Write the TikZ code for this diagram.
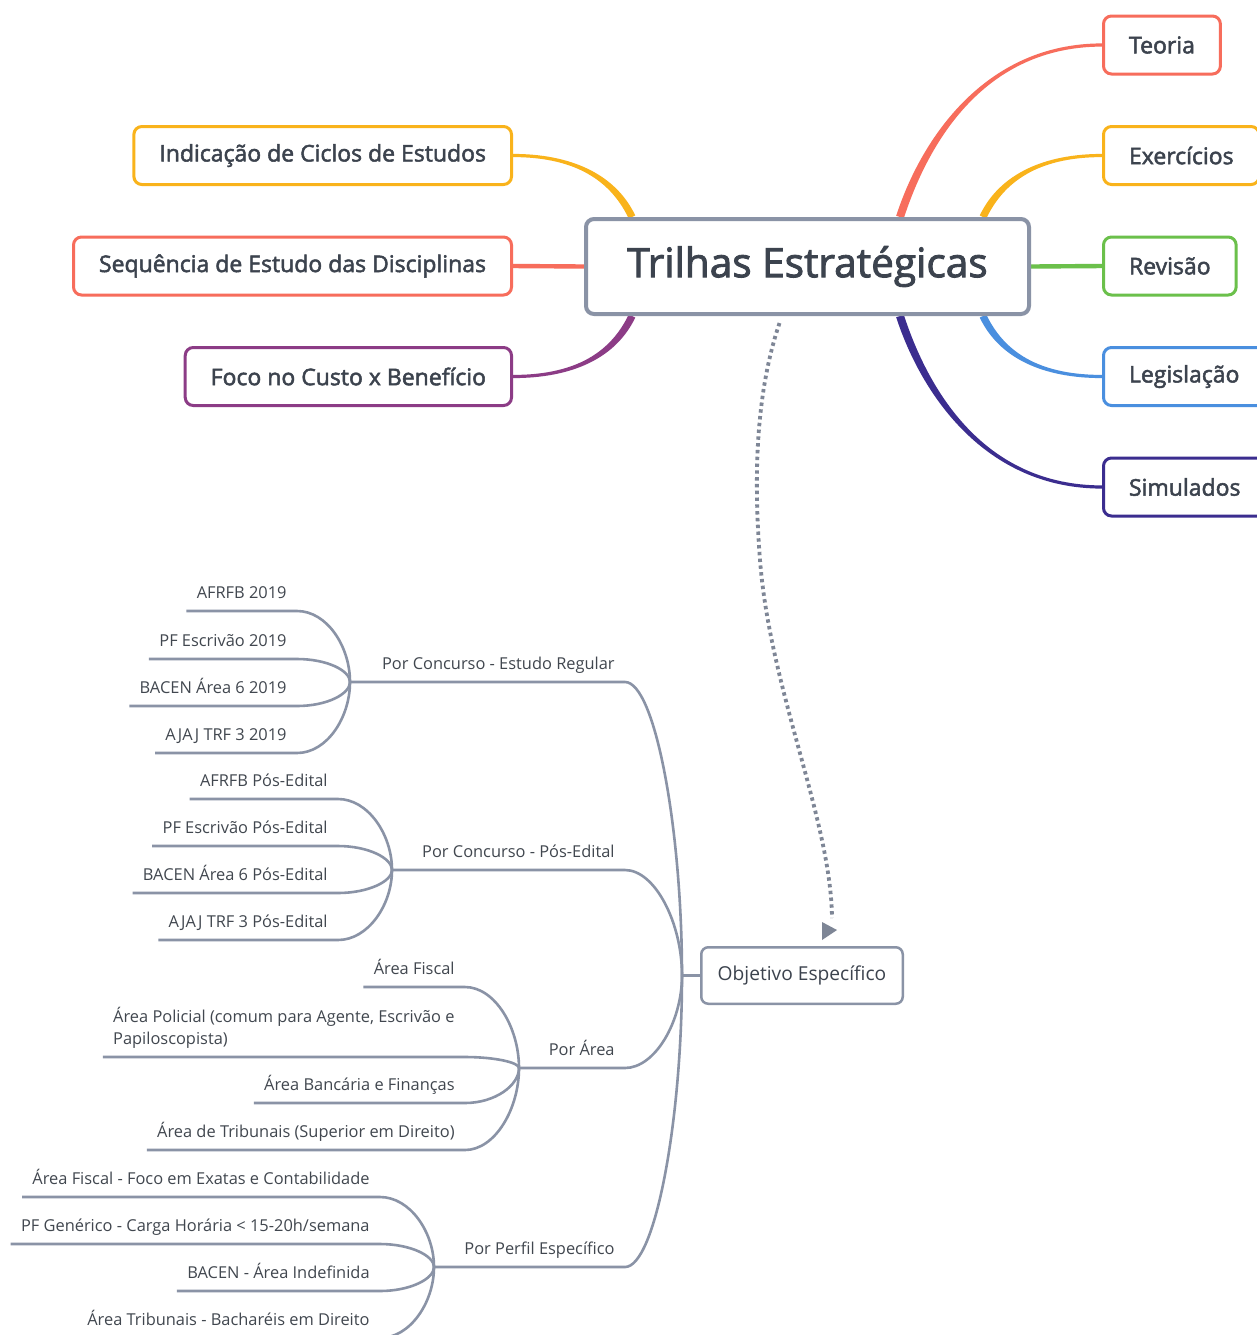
\documentclass[tikz,border=0pt]{standalone}
\usepackage{fontspec}
\setmainfont{Open Sans}
\newfontfamily\sbf{Open Sans}[FakeBold=2.2]
\usetikzlibrary{calc,arrows.meta,backgrounds}
\definecolor{tcol}{HTML}{3C434E}
\definecolor{lcol}{HTML}{41474F}
\definecolor{gline}{HTML}{8A93A6}
\definecolor{dcol}{HTML}{7E8696}
\definecolor{coral}{HTML}{F76D5C}
\definecolor{orng}{HTML}{F9B31B}
\definecolor{grn}{HTML}{6BC04B}
\definecolor{blu}{HTML}{4A8FDF}
\definecolor{indg}{HTML}{3B2D8F}
\definecolor{purp}{HTML}{8C3C86}
% tapered curve: color, P0, P1, P2, P3, half width at P0, half width at P3
\newcommand\tpr[7]{%
  \coordinate (tA0) at ($(#2)!#6!90:(#3)$);
  \coordinate (tB0) at ($(#2)!#6!-90:(#3)$);
  \coordinate (tA3) at ($(#5)!#7!-90:(#4)$);
  \coordinate (tB3) at ($(#5)!#7!90:(#4)$);
  \fill[#1] (tA0) .. controls ($(#3)+(tA0)-(#2)$) and ($(#4)+(tA3)-(#5)$) .. (tA3)
     -- (tB3) .. controls ($(#4)+(tB3)-(#5)$) and ($(#3)+(tB0)-(#2)$) .. (tB0) -- cycle;
}
\tikzset{
  titlebox/.style={draw=gline, line width=2pt, rounded corners=4pt, fill=white,
    minimum width=221.5pt, minimum height=47.5pt, text=tcol,
    font=\sbf\fontsize{20.3}{24}\selectfont},
  brbox/.style={draw=#1, line width=1.5pt, rounded corners=4pt, fill=white,
    minimum height=29pt, inner xsep=12.75pt, text=tcol,
    font=\sbf\fontsize{11.5}{13}\selectfont},
  objbox/.style={draw=gline, line width=1.25pt, rounded corners=3.5pt, fill=white,
    minimum width=100.75pt, minimum height=28.25pt, text=tcol,
    font=\fontsize{9.6}{12}\selectfont},
  leaf/.style={anchor=south east, inner xsep=5pt, inner ysep=0pt, text depth=6.3pt,
    text=lcol, font=\fontsize{8.2}{11}\selectfont},
  tree/.style={draw=gline, line width=1.3pt},
  dotline/.style={draw=dcol, line width=1.9pt, dash pattern=on 1.7pt off 1.7pt},
}
\begin{document}
\begin{tikzpicture}[x=0.5pt,y=-0.5pt]
\useasboundingbox (0,0) rectangle (1257,1335);
\clip (0,0) rectangle (1257,1335);

% central and first-level nodes
\node[titlebox] (c) at (807.5,266.5) {Trilhas Estratégicas};
\node[brbox=coral, anchor=west] (teo) at (1102,45) {Teoria};
\node[brbox=orng, anchor=west] (exe) at (1102,155.5) {Exercícios};
\node[brbox=grn, anchor=west] (rev) at (1102,266) {Revisão};
\node[brbox=blu, anchor=west] (leg) at (1102,376.5) {Legislação};
\node[brbox=indg, anchor=west] (sim) at (1102,487) {Simulados};
\node[brbox=orng, anchor=east] (ind) at (513,155.5) {Indicação de Ciclos de Estudos};
\node[brbox=coral, anchor=east] (seq) at (513,266) {Sequência de Estudo das Disciplinas};
\node[brbox=purp, anchor=east] (foc) at (513,376.5) {Foco no Custo x Benefício};

% objective node
\node[objbox] (obj) at (802,975.5) {Objetivo Específico};

% second-level labels
\node[leaf] (l1) at (625,682) {Por Concurso - Estudo Regular};
\node[leaf] (l2) at (625,870) {Por Concurso - Pós-Edital};
\node[leaf] (l3) at (625,1068) {Por Área};
\node[leaf] (l4) at (625,1267) {Por Perfil Específico};

% leaves
\node[leaf] (a1) at (297,611) {AFRFB 2019};
\node[leaf] (a2) at (297,659) {PF Escrivão 2019};
\node[leaf] (a3) at (297,706) {BACEN Área 6 2019};
\node[leaf] (a4) at (297,753) {AJAJ TRF 3 2019};

\node[leaf] (b1) at (338,799) {AFRFB Pós-Edital};
\node[leaf] (b2) at (338,846) {PF Escrivão Pós-Edital};
\node[leaf] (b3) at (338,893) {BACEN Área 6 Pós-Edital};
\node[leaf] (b4) at (338,940) {AJAJ TRF 3 Pós-Edital};

\node[leaf] (c1) at (465,987) {Área Fiscal};
\node[leaf, align=left] (c2) at (465,1057) {Área Policial (comum para Agente, Escrivão e\\Papiloscopista)};
\node[leaf] (c3) at (465,1103) {Área Bancária e Finanças};
\node[leaf] (c4) at (465,1150) {Área de Tribunais (Superior em Direito)};

\node[leaf] (d1) at (380,1197) {Área Fiscal - Foco em Exatas e Contabilidade};
\node[leaf] (d2) at (380,1244) {PF Genérico - Carga Horária < 15-20h/semana};
\node[leaf] (d3) at (380,1291) {BACEN - Área Indefinida};
\node[leaf] (d4) at (380,1338) {Área Tribunais - Bacharéis em Direito};

\coordinate (j1) at (350,682);
\coordinate (j2) at (392,870);
\coordinate (j3) at (519,1068);
\coordinate (j4) at (434,1267);
\coordinate (root) at ($(obj.west)+(-18,0)$);

\begin{pgfonlayer}{background}
\fill[white] (0,0) rectangle (1257,1335);

% first-level connectors
\coordinate (p0) at ($(c.north east)+(-131,0)$);
\coordinate (p1) at (925,140); \coordinate (p2) at (985,45);
\tpr{coral}{p0}{p1}{p2}{teo.west}{2pt}{0.8pt}
\coordinate (p0) at ($(c.north east)+(-48,0)$);
\coordinate (p1) at (1003,175); \coordinate (p2) at (1045,155.5);
\tpr{orng}{p0}{p1}{p2}{exe.west}{1.8pt}{0.8pt}
\draw[grn, line width=2.2pt] (c.east) -- (rev.west);
\coordinate (p0) at ($(c.south east)+(-48,0)$);
\coordinate (p1) at (1003,358); \coordinate (p2) at (1045,376.5);
\tpr{blu}{p0}{p1}{p2}{leg.west}{1.8pt}{0.8pt}
\coordinate (p0) at ($(c.south east)+(-131,0)$);
\coordinate (p1) at (925,393); \coordinate (p2) at (985,487);
\tpr{indg}{p0}{p1}{p2}{sim.west}{2pt}{0.8pt}
\coordinate (p0) at ($(c.north west)+(48,0)$);
\coordinate (p1) at (612,175); \coordinate (p2) at (570,155.5);
\tpr{orng}{p0}{p1}{p2}{ind.east}{1.8pt}{0.8pt}
\draw[coral, line width=2.2pt] (c.west) -- (seq.east);
\coordinate (p0) at ($(c.south west)+(48,0)$);
\coordinate (p1) at (612,358); \coordinate (p2) at (570,376.5);
\tpr{purp}{p0}{p1}{p2}{foc.east}{1.8pt}{0.8pt}

% dotted relation with its arrowhead
\coordinate (ds) at ($(c.south)+(-28,7)$);
\coordinate (de) at ($(obj.north)+(30,-28)$);
\draw[dotline] (ds) .. controls (757,390) and (753,470) .. (760,560)
  .. controls (770,690) and (831,820) .. (de);
\coordinate (tip) at ($(obj.north)+(35,-16)$);
\fill[dcol] (tip) -- ++(-15,-8) -- ++(0,18) -- cycle;

% tree
\draw[tree] (obj.west) -- (root);
\foreach \l/\j in {l1/j1,l2/j2,l3/j3,l4/j4}{
  \draw[tree] (\j) -- (\l.south east) .. controls +(30,0) and ($(root)!0.5!(root |- \l.south)$) .. (root);
}
\foreach \n/\j in {a1/j1,a2/j1,a3/j1,a4/j1,b1/j2,b2/j2,b3/j2,b4/j2,c1/j3,c2/j3,c3/j3,c4/j3,d1/j4,d2/j4,d3/j4,d4/j4}{
  \draw[tree] (\n.south west) -- (\n.south east) .. controls +(30,0) and ($(\j)!0.5!(\j |- \n.south)$) .. (\j);
}
\end{pgfonlayer}
\end{tikzpicture}
\end{document}
